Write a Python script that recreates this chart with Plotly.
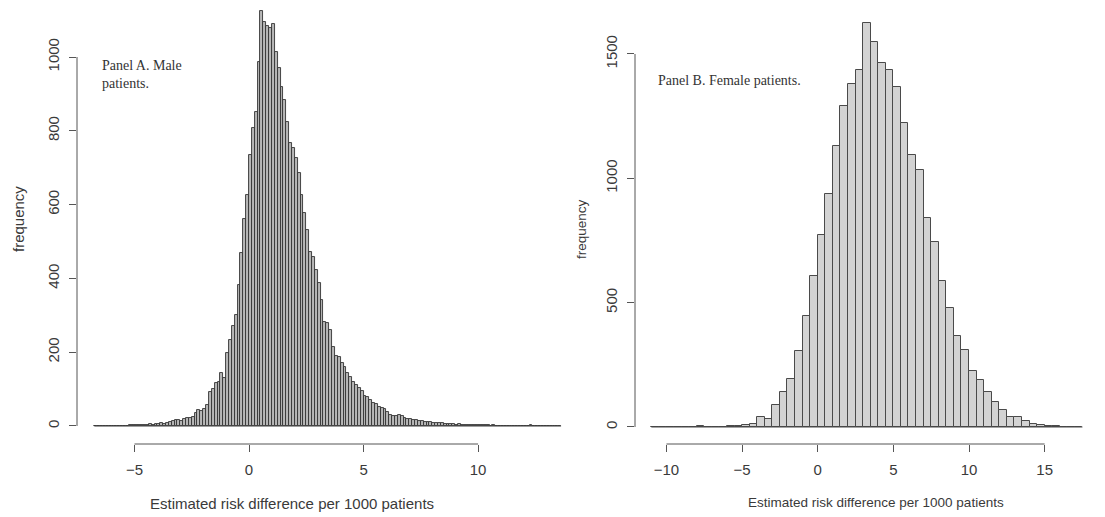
import numpy as np
import plotly.graph_objects as go

# ---------------- data ----------------
male_bin_start = -6.75
male_bin_width = 0.125
male_counts = [
    1, 0, 0, 1, 0, 1, 0, 0, 1, 1,
    0, 1, 2, 2, 3, 3, 2, 4, 4, 5,
    4, 5, 6, 7, 6, 8, 12, 13, 15, 16,
    14, 18, 22, 21, 25, 35, 43, 40, 45, 57,
    92, 100, 116, 120, 143, 130, 197, 233, 270, 300,
    382, 469, 560, 626, 734, 807, 851, 986, 1125, 1095,
    1084, 1078, 1090, 1014, 970, 919, 883, 824, 767, 753,
    726, 686, 626, 577, 531, 472, 458, 423, 388, 341,
    282, 280, 260, 214, 190, 187, 171, 160, 144, 133,
    119, 110, 103, 95, 81, 78, 70, 63, 60, 52,
    50, 46, 38, 30, 28, 28, 30, 26, 22, 20,
    18, 17, 16, 14, 13, 12, 11, 10, 9, 8,
    8, 7, 6, 6, 5, 6, 4, 5, 4, 3,
    4, 3, 3, 2, 3, 2, 2, 3, 1, 2,
    1, 0, 1, 0, 0, 1, 1, 0, 0, 1,
    0, 0, 2, 0, 1, 0, 0, 0, 1, 0,
    0, 1, 0,
]

female_bin_start = -11.0
female_bin_width = 0.5
female_counts = [
    0, 0, 0, 0, 0, 0, 2, 0, 0, 1,
    3, 5, 9, 14, 42, 32, 90, 141, 193, 305,
    448, 607, 771, 939, 1129, 1292, 1379, 1435, 1625, 1547,
    1464, 1435, 1367, 1221, 1093, 1033, 842, 745, 587, 477,
    365, 309, 224, 188, 141, 101, 70, 40, 40, 23,
    13, 8, 5, 4, 0, 0, 0,
]

male_xticks = [-5, 0, 5, 10]
male_yticks = [0, 200, 400, 600, 800, 1000]
female_xticks = [-10, -5, 0, 5, 10, 15]
female_yticks = [0, 500, 1000, 1500]

panel_a_label = "Panel A. Male<br>patients."
panel_b_label = "Panel B. Female patients."
x_title = "Estimated risk difference per 1000 patients"
y_title = "frequency"

# ---------------- build ----------------
PAGE_OFF = 8              # default body margin of the html page
W, H = 1105 - PAGE_OFF, 517 - PAGE_OFF
TXT = "#3a3a3a"
AX = "#555555"
SANS = "Liberation Sans, Arial, sans-serif"
SERIF = "Liberation Serif, DejaVu Serif, serif"
FS = 15
FS_B = 13.5

m_edges = male_bin_start + male_bin_width * np.arange(len(male_counts) + 1)
f_edges = female_bin_start + female_bin_width * np.arange(len(female_counts) + 1)
m_centers = (m_edges[:-1] + m_edges[1:]) / 2
f_centers = (f_edges[:-1] + f_edges[1:]) / 2

fig = go.Figure()
fig.add_trace(go.Bar(
    x=m_centers, y=male_counts, width=male_bin_width,
    marker=dict(color="#b8b8b8", line=dict(color="#333333", width=0.9)),
    xaxis="x", yaxis="y", hoverinfo="x+y"))
fig.add_trace(go.Scatter(
    x=[m_edges[0], m_edges[-1]], y=[0, 0], mode="lines",
    line=dict(color="#444444", width=1), xaxis="x", yaxis="y", hoverinfo="skip"))
fig.add_trace(go.Bar(
    x=f_centers, y=female_counts, width=female_bin_width,
    marker=dict(color="#d3d3d3", line=dict(color="#4a4a4a", width=1)),
    xaxis="x2", yaxis="y2", hoverinfo="x+y"))
fig.add_trace(go.Scatter(
    x=[f_edges[0], f_edges[-1]], y=[0, 0], mode="lines",
    line=dict(color="#444444", width=1), xaxis="x2", yaxis="y2", hoverinfo="skip"))


def px_x(p):
    return (p - PAGE_OFF) / W


def px_y(p):
    return (H - (p - PAGE_OFF)) / H


common_axis = dict(showgrid=False, zeroline=False, showline=False,
                   ticks="outside", ticklen=7, tickcolor=AX, tickwidth=1,
                   tickfont=dict(family=SANS, size=FS, color=TXT))

ydom = [px_y(444), 1.0]
fig.update_layout(
    width=W, height=H,
    margin=dict(l=0, r=0, t=0, b=0),
    paper_bgcolor="white", plot_bgcolor="white",
    showlegend=False, bargap=0,
    xaxis=dict(domain=[px_x(77), px_x(580)], range=[-7.51, 14.45],
               tickvals=male_xticks, anchor="y", ticklabelstandoff=5, **common_axis),
    yaxis=dict(domain=ydom, range=[-48.8, (426 - PAGE_OFF) / 0.369], tickvals=male_yticks,
               tickangle=-90, anchor="x", ticklabelstandoff=4, **common_axis),
    xaxis2=dict(domain=[px_x(635), px_x(1100)], range=[-12.08, 18.66],
                tickvals=female_xticks, anchor="y2", ticklabelstandoff=5, **common_axis),
    yaxis2=dict(domain=ydom, range=[-68.4, (427 - PAGE_OFF) / 0.24867], tickvals=female_yticks,
                tickangle=-90, anchor="x2", ticklabelstandoff=4, **common_axis),
)

# R-style axis lines spanning first to last tick
shapes = [
    dict(type="line", xref="x", yref="y domain", x0=male_xticks[0], x1=male_xticks[-1], y0=0, y1=0),
    dict(type="line", xref="x domain", yref="y", x0=0, x1=0, y0=male_yticks[0], y1=male_yticks[-1]),
    dict(type="line", xref="x2", yref="y2 domain", x0=female_xticks[0], x1=female_xticks[-1], y0=0, y1=0),
    dict(type="line", xref="x2 domain", yref="y2", x0=0, x1=0, y0=female_yticks[0], y1=female_yticks[-1]),
]
for s in shapes:
    s["line"] = dict(color=AX, width=1)
fig.update_layout(shapes=shapes)

ann = [
    dict(text=panel_a_label, x=px_x(100), y=px_y(56), xanchor="left", yanchor="top", align="left",
         font=dict(family=SERIF, size=14, color="#333333")),
    dict(text=panel_b_label, x=px_x(656), y=px_y(71), xanchor="left", yanchor="top", align="left",
         font=dict(family=SERIF, size=14, color="#333333")),
    dict(text=y_title, x=px_x(18), y=px_y(219), textangle=-90, xanchor="center", yanchor="middle",
         font=dict(family=SANS, size=FS, color=TXT)),
    dict(text=y_title, x=px_x(581), y=px_y(229), textangle=-90, xanchor="center", yanchor="middle",
         font=dict(family=SANS, size=FS_B, color=TXT)),
    dict(text=x_title, x=px_x(292), y=px_y(503), xanchor="center", yanchor="middle",
         font=dict(family=SANS, size=FS, color=TXT)),
    dict(text=x_title, x=px_x(876), y=px_y(502), xanchor="center", yanchor="middle",
         font=dict(family=SANS, size=FS_B, color=TXT)),
]
for a in ann:
    a.update(xref="paper", yref="paper", showarrow=False)
fig.update_layout(annotations=ann)

fig.write_html("out.html")
